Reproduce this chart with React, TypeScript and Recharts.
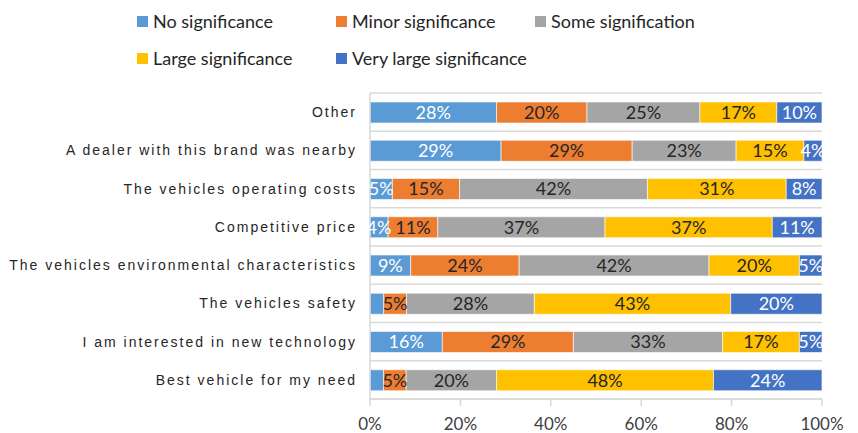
import React from 'react';
import { BarChart, Bar, XAxis, YAxis, CartesianGrid, LabelList } from 'recharts';

const categories = [
  'Other',
  'A dealer with this brand was nearby',
  'The vehicles operating costs',
  'Competitive price',
  'The vehicles environmental characteristics',
  'The vehicles safety',
  'I am interested in new technology',
  'Best vehicle for my need',
];

const noSig = [28, 29, 5, 4, 9, 3, 16, 3];
const minorSig = [20, 29, 15, 11, 24, 5, 29, 5];
const someSig = [25, 23, 42, 37, 42, 28, 33, 20];
const largeSig = [17, 15, 31, 37, 20, 43, 17, 48];
const veryLargeSig = [10, 4, 8, 11, 5, 20, 5, 24];

const xTicks = [0, 0.2, 0.4, 0.6, 0.8, 1];

const series = [
  { key: 'no', name: 'No significance', color: '#5B9BD5', text: '#ffffff', values: noSig },
  { key: 'minor', name: 'Minor significance', color: '#ED7D31', text: '#262626', values: minorSig },
  { key: 'some', name: 'Some signification', color: '#A5A5A5', text: '#262626', values: someSig },
  { key: 'large', name: 'Large significance', color: '#FFC000', text: '#262626', values: largeSig },
  { key: 'veryLarge', name: 'Very large significance', color: '#4472C4', text: '#ffffff', values: veryLargeSig },
];

const data = categories.map((name, i) => {
  const row: Record<string, string | number> = { name };
  series.forEach((s) => {
    row[s.key] = s.values[i];
  });
  return row;
});

// legend is laid out as a 3-column grid, two rows
const legendCols = [137, 336, 535];
const legendRows = [21, 58];

const Legend2 = () => (
  <>
    {series.map((s, i) => (
      <div
        key={s.key}
        style={{
          position: 'absolute',
          left: legendCols[i % 3],
          top: legendRows[Math.floor(i / 3)] - 11,
          height: 22,
          display: 'flex',
          alignItems: 'center',
          fontFamily: 'Lato, sans-serif',
          fontSize: 18,
          color: '#262626',
          whiteSpace: 'nowrap',
        }}
      >
        <span style={{ width: 11, height: 11, background: s.color, marginRight: 5 }} />
        {s.name}
      </div>
    ))}
  </>
);

const App = () => {
  return (
    <div style={{ position: 'absolute', left: 0, top: 0, width: 858, height: 433, background: '#fff' }}>
      <BarChart
        width={858}
        height={433}
        data={data}
        layout="vertical"
        stackOffset="expand"
        margin={{ top: 93, right: 36, bottom: 0, left: 0 }}
      >
        <CartesianGrid
          vertical={false}
          stroke="#d9d9d9"
          strokeWidth={1.5}
          horizontalCoordinatesGenerator={({ offset }: any) =>
            Array.from({ length: categories.length + 1 }, (_, i) => offset.top + (i * offset.height) / categories.length)
          }
        />
        <XAxis
          type="number"
          domain={[0, 1]}
          ticks={xTicks}
          tickFormatter={(v: number) => `${Math.round(v * 100)}%`}
          axisLine={{ stroke: '#d9d9d9', strokeWidth: 1.5 }}
          tickLine={{ stroke: '#d9d9d9', strokeWidth: 1.5 }}
          tickSize={7}
          tickMargin={12}
          height={34}
          tick={{ fill: '#404040', fontSize: 17, fontFamily: 'Lato, sans-serif' }}
        />
        <YAxis
          type="category"
          dataKey="name"
          width={370}
          tickLine={false}
          tickSize={0}
          tickMargin={13}
          axisLine={{ stroke: '#d9d9d9', strokeWidth: 1.5 }}
          interval={0}
          tick={{ fill: '#262626', fontSize: 14, fontFamily: '"Liberation Sans", Arial, sans-serif', letterSpacing: 2 }}
        />
        {series.map((s) => (
          <Bar
            key={s.key}
            dataKey={s.key}
            name={s.name}
            stackId="a"
            fill={s.color}
            stroke="#ffffff"
            strokeWidth={0.6}
            barSize={21}
            isAnimationActive={false}
          >
            <LabelList
              dataKey={s.key}
              position="center"
              fill={s.text}
              fontSize={18}
              fontFamily="Lato, sans-serif"
              formatter={(v: any) => (Number(v) > 3 ? `${v}%` : '')}
            />
          </Bar>
        ))}
      </BarChart>
      <Legend2 />
    </div>
  );
};

export default App;
